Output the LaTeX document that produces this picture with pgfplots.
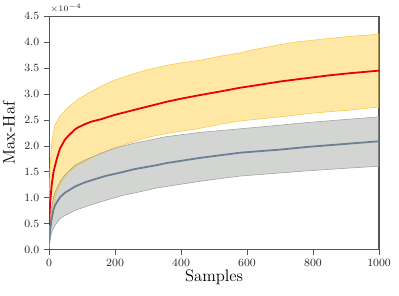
\documentclass[border=0pt]{standalone}
\usepackage{pgfplots}
\pgfplotsset{compat=1.18}
\usepgfplotslibrary{fillbetween}
\definecolor{yband}{HTML}{FFD24D}
\definecolor{yedge}{HTML}{F7C948}
\definecolor{gband}{HTML}{A7ABA7}
\definecolor{gedge}{HTML}{A0A0A0}
\definecolor{redline}{HTML}{E8000B}
\definecolor{grayline}{HTML}{6E7F95}
\definecolor{spine}{HTML}{555555}
\begin{document}
\begin{tikzpicture}
\begin{axis}[name=ax, width=238pt, height=168.6pt, scale only axis,
  xmin=0, xmax=1000, ymin=0, ymax=4.5,
  xtick={0,200,400,600,800,1000},
  ytick={0,0.5,1,1.5,2,2.5,3,3.5,4,4.5},
  xtick pos=left, ytick pos=left,
  tick align=outside, major tick length=3.5pt,
  axis line style={draw=spine, line width=0.8pt},
  tick style={draw=spine, line width=0.6pt},
  ticklabel style={font=\fontsize{8.5}{10}\selectfont, text=black!85},
  label style={font=\fontsize{12}{14}\selectfont},
  xlabel={Samples}, ylabel={Max-Haf},
  xlabel style={yshift=4.5pt},
  xticklabel style={/pgf/number format/1000 sep={}},
  yticklabel style={/pgf/number format/.cd, fixed, fixed zerofill, precision=1},
  scaled y ticks=false,
]
% yellow band
\addplot[name path=yu, yedge, line width=0.4pt] coordinates {
(0,0.85)(3,1.60)(8,2.05)(13,2.25)(18,2.40)(33,2.58)(59,2.75)(89,2.90)(120,3.02)(155,3.14)(200,3.27)(256,3.39)(300,3.47)(356,3.55)(400,3.60)(458,3.65)(520,3.73)(579,3.79)(609,3.84)(700,3.95)(761,4.01)(850,4.07)(912,4.11)(1000,4.15)};
\addplot[name path=yl, yedge, line width=0.4pt] coordinates {
(0,0.02)(3,0.35)(8,0.65)(13,0.85)(23,1.10)(38,1.30)(59,1.50)(89,1.63)(119,1.73)(155,1.86)(200,1.97)(256,2.08)(303,2.17)(356,2.24)(458,2.34)(520,2.42)(579,2.48)(609,2.50)(700,2.56)(781,2.62)(850,2.66)(912,2.69)(1000,2.75)};
\addplot[yband, fill opacity=0.5, draw=none] fill between[of=yu and yl];
% gray band
\addplot[name path=gu, gedge, line width=0.4pt] coordinates {
(0,0.10)(3,0.44)(8,0.82)(13,1.00)(18,1.11)(33,1.31)(48,1.44)(79,1.63)(109,1.73)(155,1.85)(201,1.96)(256,2.05)(356,2.18)(458,2.26)(579,2.33)(700,2.40)(781,2.45)(900,2.51)(1000,2.56)};
\addplot[name path=gl, gedge, line width=0.4pt] coordinates {
(0,0.05)(3,0.21)(8,0.34)(18,0.47)(33,0.60)(48,0.66)(79,0.76)(124,0.86)(170,0.95)(225,1.05)(256,1.09)(326,1.19)(427,1.29)(458,1.32)(579,1.42)(700,1.48)(781,1.52)(900,1.57)(1000,1.61)};
\addplot[gband, fill opacity=0.5, draw=none] fill between[of=gu and gl];
% mean lines
\addplot[grayline, line width=1.3pt] coordinates {
(0,0.12)(3,0.37)(8,0.60)(13,0.76)(18,0.86)(33,1.01)(48,1.10)(79,1.22)(109,1.30)(139,1.36)(170,1.42)(225,1.50)(256,1.55)(326,1.63)(356,1.67)(427,1.74)(458,1.77)(579,1.87)(701,1.93)(781,1.98)(900,2.04)(1000,2.09)};
\addplot[redline, line width=1.3pt] coordinates {
(0,0.47)(3,0.90)(8,1.25)(13,1.48)(18,1.62)(23,1.74)(33,1.95)(48,2.12)(59,2.20)(79,2.32)(89,2.36)(109,2.42)(129,2.47)(155,2.51)(200,2.60)(256,2.69)(300,2.76)(356,2.85)(400,2.91)(458,2.98)(520,3.05)(579,3.12)(640,3.18)(700,3.24)(761,3.29)(800,3.32)(850,3.36)(912,3.40)(1000,3.45)};
\end{axis}
\node[anchor=south west, inner sep=0pt, font=\fontsize{6.5}{7}\selectfont, text=black!85] at ([shift={(0.8pt,2.2pt)}]ax.north west) {$\times10^{-4}$};
\pgfresetboundingbox
\path[use as bounding box] ([shift={(-35.4pt,-32.9pt)}]ax.south west) rectangle ([shift={(14.4pt,11.6pt)}]ax.north east);
\end{tikzpicture}
\end{document}
